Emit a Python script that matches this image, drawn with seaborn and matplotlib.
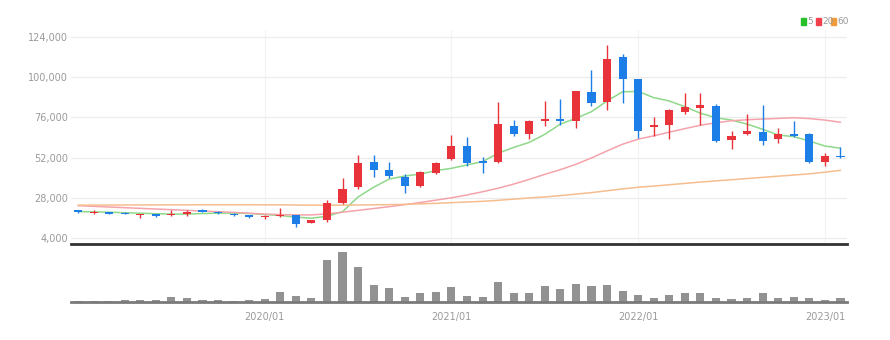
import numpy as np
import pandas as pd
import matplotlib
matplotlib.use("Agg")
import matplotlib.pyplot as plt
import seaborn as sns

# Monthly bars, 2019/01 .. 2023/02
months = pd.period_range("2019-01", "2023-02", freq="M").strftime("%Y/%m").tolist()

open_ = [20500, 18800, 19400, 19000, 17600, 18100, 17500, 18600, 20800, 19800,
         18500, 17700, 16300, 17000, 17700, 13100, 14700, 24900, 34600, 49600,
         44600, 40600, 35200, 43000, 51200, 59100, 50200, 49400, 70900, 65900,
         73800, 74800, 73800, 91400, 85400, 112200, 98700, 70200, 71500, 79400,
         81400, 83000, 62500, 66100, 67200, 63100, 66100, 65900, 49600, 53000]
high = [20800, 20500, 19600, 19300, 18400, 18300, 21000, 20500, 21200, 20000,
        18900, 18000, 17600, 22000, 18000, 15000, 26800, 39800, 53600, 53600,
        49600, 42000, 44000, 49600, 65500, 64500, 52500, 85400, 74300, 74500,
        85800, 87000, 92000, 104300, 119200, 113700, 99000, 76400, 81000, 90800,
        90400, 84000, 67600, 77800, 83400, 69500, 74100, 66500, 55000, 58500]
low = [19000, 18600, 18400, 18100, 16000, 16300, 17300, 17000, 19600, 18500,
       17200, 16200, 15500, 16800, 10500, 12900, 13800, 24000, 33000, 40400,
       39800, 31000, 34500, 42000, 50500, 47200, 43000, 49000, 65000, 63300,
       70900, 71500, 69500, 83000, 80400, 84400, 63500, 64900, 62900, 77800,
       71500, 61500, 57000, 65500, 59500, 60900, 64500, 49000, 47000, 51900]
close = [19300, 19600, 18600, 18300, 18200, 17300, 18300, 19700, 19800, 18700,
         17500, 16500, 17300, 18000, 12500, 14700, 24900, 33300, 49000, 44600,
         41000, 35200, 43600, 49000, 59100, 48600, 49000, 71900, 65900, 73800,
         74800, 73800, 91800, 84500, 110900, 98700, 68000, 71500, 80400, 82400,
         83400, 61900, 65100, 68000, 61900, 65900, 65100, 49500, 53000, 52300]

ma5 = [19800, 19600, 19400, 19100, 18800, 18500, 18300, 18300, 18600, 18800,
       18900, 18600, 18000, 17400, 16500, 15800, 17000, 19700, 28500, 34300,
       39200, 41000, 42200, 44200, 45600, 47600, 49600, 54600, 58100, 61100,
       65900, 72000, 75500, 79400, 85800, 91300, 91500, 87800, 85800, 82400,
       78500, 75800, 74400, 72000, 68900, 65500, 64500, 61900, 58900, 57600]
ma20 = [23300, 22900, 22500, 22100, 21700, 21300, 20900, 20500, 20100, 19700,
        19300, 18800, 18300, 18000, 17800, 17800, 18400, 19400, 20500, 21600,
        22700, 23900, 25200, 26600, 28000, 29700, 31600, 33700, 36200, 39000,
        42000, 44800, 48000, 51800, 56000, 60000, 63000, 65000, 67200, 69300,
        71300, 72800, 74000, 74600, 75000, 75400, 75800, 75300, 74400, 73100]
ma60 = [23600, 23650, 23700, 23700, 23750, 23750, 23800, 23800, 23850, 23850,
        23850, 23850, 23800, 23800, 23700, 23600, 23600, 23600, 23700, 23800,
        23900, 24100, 24400, 24700, 25100, 25500, 25900, 26500, 27200, 27900,
        28500, 29300, 30200, 31100, 32200, 33300, 34300, 35000, 35800, 36600,
        37400, 38100, 38800, 39500, 40200, 40900, 41600, 42300, 43300, 44400]

volume = [1000, 1000, 1000, 2000, 2000, 2000, 5300, 4000, 2300, 2000,
          1000, 2000, 2700, 10000, 6300, 3700, 42000, 50300, 35000, 16700,
          14000, 5000, 9000, 10300, 15000, 5700, 5000, 19700, 9000, 9000,
          15700, 13300, 18000, 16300, 17300, 11300, 7300, 4000, 6700, 9000,
          9000, 4000, 3300, 4000, 8700, 4000, 5300, 3700, 2300, 3700]

price_ticks = [4000, 28000, 52000, 76000, 100000, 124000]
year_ticks = ["2020/01", "2021/01", "2022/01", "2023/01"]
ma_labels = ["5", "20", "60"]

UP = "#e8333b"
DOWN = "#1c7ee6"
MA_COLORS = ["#8fd88a", "#f5a3ab", "#f6bd8e"]
KEY_COLORS = ["#27c02a", "#f0404c", "#f29a3a"]
TEXT = "#9a9a9a"

sns.set_style("white")
plt.rcParams["font.family"] = ["Liberation Sans Narrow", "DejaVu Sans"]

df = pd.DataFrame({"month": months, "open": open_, "high": high, "low": low,
                   "close": close, "ma5": ma5, "ma20": ma20, "ma60": ma60,
                   "volume": volume})
df["pos"] = np.arange(len(df))
df["color"] = np.where(df["close"] >= df["open"], UP, DOWN)

fig = plt.figure(figsize=(8.9, 3.4), dpi=100)
ax = fig.add_axes([71 / 890, 1 - 244 / 340, 776 / 890, 214 / 340])
axv = fig.add_axes([71 / 890, 1 - 302 / 340, 776 / 890, 54 / 340])

# moving averages
for col, c in zip(["ma5", "ma20", "ma60"], MA_COLORS):
    sns.lineplot(data=df, x="pos", y=col, ax=ax, color=c, lw=1.1, zorder=2,
                 legend=False)

# candles: wicks then bodies
ax.vlines(df["pos"], df["low"], df["high"], colors=df["color"], lw=1.0, zorder=3)
body_low = np.minimum(df["open"], df["close"])
body_h = np.maximum(np.abs(df["close"] - df["open"]), 700)
ax.bar(df["pos"], body_h, bottom=body_low, width=0.52, color=df["color"],
       edgecolor="none", zorder=4)

ax.set_xlim(-0.45, 49.42)
ax.set_ylim(418, 128176)
ax.set_yticks(price_ticks)
ax.set_yticklabels([f"{v:,}" for v in price_ticks])
tick_pos = [months.index(m) for m in year_ticks]
ax.set_xticks(tick_pos)
ax.set_xticklabels([])
ax.tick_params(axis="x", length=0)
ax.tick_params(axis="y", length=0, labelsize=7, labelcolor=TEXT, pad=2)
ax.grid(True, axis="y", color="#ececec", lw=0.9)
ax.grid(True, axis="x", color="#f3f3f3", lw=0.9)
ax.set_xlabel("")
ax.set_ylabel("")
for s in ["top", "right", "left"]:
    ax.spines[s].set_visible(False)
ax.spines["bottom"].set_color("#333333")
ax.spines["bottom"].set_linewidth(2)

# volume panel
sns.barplot(data=df, x="pos", y="volume", ax=axv, native_scale=True,
            color="#929292", width=0.52, saturation=1, edgecolor="none")
axv.set_xlim(-0.45, 49.42)
axv.set_ylim(0, 54000)
axv.set_yticks([])
axv.set_xticks(tick_pos)
axv.set_xticklabels(year_ticks)
axv.tick_params(axis="x", length=3, width=1, color="#444444", labelsize=7,
                labelcolor=TEXT, pad=4)
axv.set_xlabel("")
axv.set_ylabel("")
for s in ["top", "right", "left"]:
    axv.spines[s].set_visible(False)
axv.spines["bottom"].set_color("#7a7a7a")
axv.spines["bottom"].set_linewidth(2)

# moving-average key, top right
y0 = 1 - 25 / 340
kx = [801, 816, 831]
for lab, c, px in zip(ma_labels, KEY_COLORS, kx):
    fig.patches.append(plt.Rectangle((px / 890, y0), 4.5 / 890, 7 / 340,
                                     transform=fig.transFigure, color=c,
                                     figure=fig))
    fig.text((px + 6.5) / 890, y0 - 0.5 / 340, lab, fontsize=6.5, color=TEXT,
             ha="left", va="bottom")

fig.savefig("out.png", dpi=100, facecolor="white")
